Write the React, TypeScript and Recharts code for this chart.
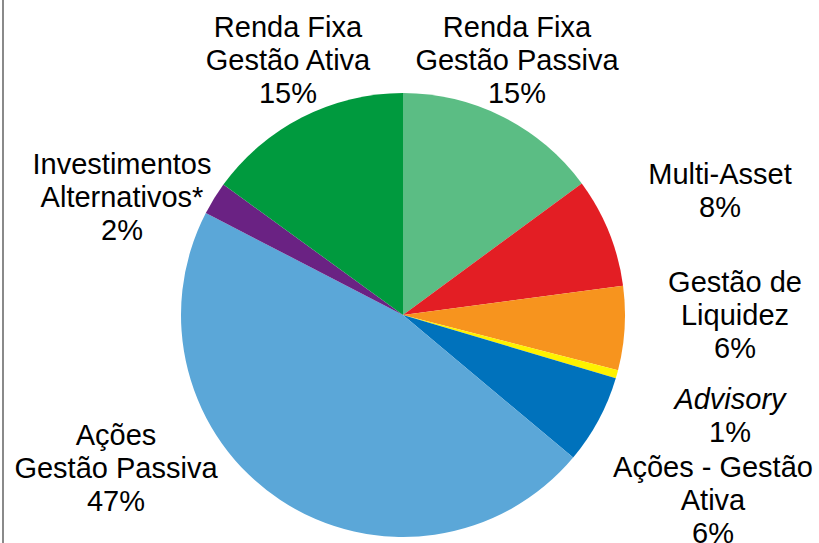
import { PieChart, Pie, Cell } from 'recharts';

const categories = [
  ['Renda Fixa', 'Gestão Passiva'],
  ['Multi-Asset'],
  ['Gestão de', 'Liquidez'],
  ['Advisory'],
  ['Ações - Gestão', 'Ativa'],
  ['Ações', 'Gestão Passiva'],
  ['Investimentos', 'Alternativos*'],
  ['Renda Fixa', 'Gestão Ativa'],
];
const shares = [14.9, 8.0, 6.1, 0.6, 6.5, 46.5, 2.4, 15.0];
const pctLabels = ['15%', '8%', '6%', '1%', '6%', '47%', '2%', '15%'];
const colors = ['#5BBD84', '#E31E24', '#F7941E', '#FFF200', '#0072BC', '#5BA7D8', '#6A2283', '#009A3E'];

const data = categories.map((lines, i) => ({ name: lines.join(' '), value: shares[i] }));

// label block centre relative to pie centre (Excel placed these by hand)
const labelOffsets: [number, number][] = [
  [114, -255], [317, -125], [332, 0], [327, 100],
  [310, 185], [-287, 153], [-281, -118], [-115, -255],
];

const FONT = '"Liberation Sans", Arial, sans-serif';
const LINE_H = 33;

const renderLabel = (props: any) => {
  const { cx, cy, index } = props;
  const lines = [...categories[index], pctLabels[index]];
  const [dx, dy] = labelOffsets[index];
  const x = cx + dx;
  const top = cy + dy - ((lines.length - 1) * LINE_H) / 2;
  return (
    <text
      x={x}
      y={top}
      textAnchor="middle"
      dominantBaseline="central"
      fill="#000"
      fontSize={29}
      fontFamily={FONT}
    >
      {lines.map((l, j) => (
        <tspan
          key={j}
          x={x}
          y={top + j * LINE_H}
          fontStyle={index === 3 && j === 0 ? 'italic' : 'normal'}
        >
          {l}
        </tspan>
      ))}
    </text>
  );
};

export default function App() {
  return (
    <div style={{ position: 'absolute', left: 0, top: 0, width: 819, height: 543, background: '#fff' }}>
      <div style={{ position: 'absolute', left: 2, top: 0, width: 2, height: 543, background: '#8a8a8a' }} />
      <PieChart width={819} height={543} margin={{ top: 0, right: 0, bottom: 0, left: 0 }}>
        <Pie
          data={data}
          dataKey="value"
          cx={403}
          cy={315}
          outerRadius={222}
          startAngle={90}
          endAngle={-270}
          stroke="none"
          labelLine={false}
          label={renderLabel}
          isAnimationActive={false}
        >
          {data.map((_, i) => (
            <Cell key={i} fill={colors[i]} />
          ))}
        </Pie>
      </PieChart>
    </div>
  );
}
